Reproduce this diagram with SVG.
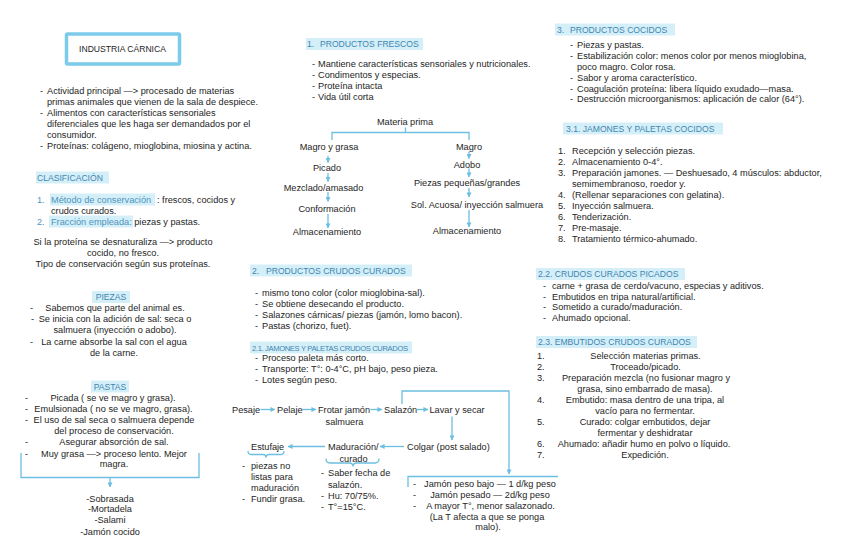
<svg xmlns="http://www.w3.org/2000/svg" width="848" height="560" viewBox="0 0 848 560">
<style>
text{font-family:"Liberation Sans","Noto Sans",Arial,sans-serif;font-size:9.2px;fill:#1e1e1e}
.m{text-anchor:middle}
.h{font-size:8.6px;fill:#3f86b0}
.b{fill:#4f93bb}
.hl{fill:#d5eff9}
.ln{fill:none;stroke:#6cbfe0;stroke-width:1.3}
.ar{fill:none;stroke:#6cbfe0;stroke-width:1.3;marker-end:url(#a)}
</style>
<defs>
<marker id="a" viewBox="0 0 6 6" refX="5.5" refY="3" markerWidth="5" markerHeight="5" markerUnits="userSpaceOnUse" orient="auto"><path d="M0,0 L6,3 L0,6 z" fill="#6cbfe0"/></marker>
</defs>
<rect width="848" height="560" fill="#fff"/>

<g id="industria">
<rect x="66.5" y="34" width="113" height="30" fill="#fff" stroke="#7ccbea" stroke-width="3.5" rx="1"/>
<text x="122.5" y="51.5" class="m" style="font-size:8.6px">INDUSTRIA CÁRNICA</text>
</g>
<g id="intro">
<text x="40" y="93.8">-</text><text x="47" y="93.8">Actividad principal —&gt; procesado de materias</text>
<text x="47" y="104.8">primas animales que vienen de la sala de despiece.</text>
<text x="40" y="115.8">-</text><text x="47" y="115.8">Alimentos con características sensoriales</text>
<text x="47" y="126.8">diferenciales que les haga ser demandados por el</text>
<text x="47" y="137.8">consumidor.</text>
<text x="40" y="148.8">-</text><text x="47" y="148.8">Proteínas: colágeno, mioglobina, miosina y actina.</text>
</g>
<g id="clasificacion">
<rect class="hl" x="36" y="171.5" width="73" height="12"/>
<text x="37" y="180.8" class="h">CLASIFICACIÓN</text>
<rect class="hl" x="50" y="193.5" width="105" height="12"/>
<text x="37" y="202.6" class="b">1.</text><text x="51" y="202.6" class="b">Método de conservación</text><text x="157" y="202.6">: frescos, cocidos y</text>
<text x="51" y="213.6">crudos curados.</text>
<rect class="hl" x="49" y="215.5" width="84" height="12"/>
<text x="37" y="224.6" class="b">2.</text><text x="51" y="224.6"><tspan class="b">Fracción empleada:</tspan> piezas y pastas.</text>
<text x="123" y="244.8" class="m">Si la proteína se desnaturaliza —&gt; producto</text>
<text x="123" y="255.8" class="m">cocido, no fresco.</text>
<text x="123" y="266.8" class="m">Tipo de conservación según sus proteínas.</text>
</g>
<g id="piezas">
<rect class="hl" x="92" y="291" width="38" height="12"/>
<text x="111" y="300.3" class="h m">PIEZAS</text>
<text x="30" y="311">-</text><text x="115" y="311" class="m">Sabemos que parte del animal es.</text>
<text x="31" y="322.3">-</text><text x="115" y="322.3" class="m">Se inicia con la adición de sal: seca o</text>
<text x="115" y="333.3" class="m">salmuera (inyección o adobo).</text>
<text x="30" y="345">-</text><text x="114" y="345" class="m">La carne absorbe la sal con el agua</text>
<text x="114" y="356" class="m">de la carne.</text>
</g>
<g id="pastas">
<rect class="hl" x="91" y="380.5" width="38" height="12"/>
<text x="110" y="389.8" class="h m">PASTAS</text>
<text x="25" y="400.6">-</text><text x="113" y="400.6" class="m">Picada ( se ve magro y grasa).</text>
<text x="25" y="412.2">-</text><text x="113.5" y="412.2" class="m">Emulsionada ( no se ve magro, grasa).</text>
<text x="25" y="423.3">-</text><text x="114" y="423.3" class="m">El uso de sal seca o salmuera depende</text>
<text x="114" y="434.3" class="m">del proceso de conservación.</text>
<text x="25" y="445">-</text><text x="114" y="445" class="m">Asegurar absorción de sal.</text>
<text x="25" y="456.6">-</text><text x="114" y="456.6" class="m">Muy grasa —&gt; proceso lento. Mejor</text>
<text x="114" y="467.3" class="m">magra.</text>
</g>
<g id="ejemplos-pastas">
<text x="110" y="501.6" class="m">-Sobrasada</text>
<text x="110" y="512.4" class="m">-Mortadela</text>
<text x="110" y="523.3" class="m">-Salami</text>
<text x="110" y="535" class="m">-Jamón cocido</text>
</g>

<g id="frescos">
<rect class="hl" x="306" y="38" width="117" height="12"/>
<text x="307" y="47.3" class="h">1.</text><text x="320" y="47.3" class="h">PRODUCTOS FRESCOS</text>
<text x="312" y="67.3">-</text><text x="318" y="67.3">Mantiene características sensoriales y nutricionales.</text>
<text x="312" y="78.3">-</text><text x="318" y="78.3">Condimentos y especias.</text>
<text x="312" y="89.3">-</text><text x="318" y="89.3">Proteína intacta</text>
<text x="312" y="100.3">-</text><text x="318" y="100.3">Vida útil corta</text>
</g>
<g id="materia-prima"><text x="405" y="124.8" class="m">Materia prima</text></g>
<g id="magro-grasa"><text x="329" y="150.2" class="m">Magro y grasa</text></g>
<g id="picado"><text x="327" y="170.6" class="m">Picado</text></g>
<g id="mezclado"><text x="323.5" y="190.6" class="m">Mezclado/amasado</text></g>
<g id="conformacion"><text x="327" y="211.6" class="m">Conformación</text></g>
<g id="almac-1"><text x="327" y="235" class="m">Almacenamiento</text></g>
<g id="magro"><text x="469" y="150.2" class="m">Magro</text></g>
<g id="adobo"><text x="467" y="167.6" class="m">Adobo</text></g>
<g id="piezas-peq"><text x="467" y="186.2" class="m">Piezas pequeñas/grandes</text></g>
<g id="sol-acuosa"><text x="477" y="207.6" class="m">Sol. Acuosa/ inyección salmuera</text></g>
<g id="almac-2"><text x="467" y="234" class="m">Almacenamiento</text></g>

<g id="crudos">
<rect class="hl" x="250" y="264.5" width="162" height="12"/>
<text x="252" y="273.6" class="h">2.</text><text x="266" y="273.6" class="h">PRODUCTOS CRUDOS CURADOS</text>
<text x="255" y="295.6">-</text><text x="262" y="295.6">mismo tono color (color mioglobina-sal).</text>
<text x="255" y="306.6">-</text><text x="262" y="306.6">Se obtiene desecando el producto.</text>
<text x="255" y="317.6">-</text><text x="262" y="317.6">Salazones cárnicas/ piezas (jamón, lomo bacon).</text>
<text x="255" y="328.6">-</text><text x="262" y="328.6">Pastas (chorizo, fuet).</text>
</g>
<g id="jamones-crudos">
<rect class="hl" x="250" y="341.5" width="162" height="12"/>
<text x="252" y="350.8" class="h" style="font-size:7.6px;letter-spacing:-0.35px">2.1. JAMONES Y PALETAS CRUDOS CURADOS</text>
<text x="255" y="361.4">-</text><text x="262" y="361.4">Proceso paleta más corto.</text>
<text x="255" y="372.4">-</text><text x="262" y="372.4">Transporte: T°: 0-4°C, pH bajo, peso pieza.</text>
<text x="255" y="383.4">-</text><text x="262" y="383.4">Lotes según peso.</text>
</g>
<g id="pesaje"><text x="232" y="413.4">Pesaje</text></g>
<g id="pelaje"><text x="277" y="413.4">Pelaje</text></g>
<g id="frotar"><text x="318" y="413.4">Frotar jamón</text><text x="344.5" y="425" class="m">salmuera</text></g>
<g id="salazon"><text x="384" y="413.4">Salazón</text></g>
<g id="lavar"><text x="429.5" y="413.4">Lavar y secar</text></g>
<g id="colgar"><text x="407" y="450">Colgar (post salado)</text></g>
<g id="maduracion">
<text x="328" y="450">Maduración/</text><text x="353.5" y="461.6" class="m">curado</text>
<path class="ln" d="M326,458.5 Q326,463 330,463 H349 Q353,463 353,466.5 Q353,463 357,463 H375 Q379,463 379,458.5"/>
<text x="321" y="476">-</text><text x="328" y="476">Saber fecha de</text>
<text x="328" y="487.6">salazón.</text>
<text x="321" y="499.3">-</text><text x="328" y="499.3">Hu: 70/75%.</text>
<text x="321" y="510">-</text><text x="328" y="510">T°=15°C.</text>
</g>
<g id="estufaje">
<text x="251" y="450">Estufaje</text>
<path class="ln" d="M248,451 Q248,454.5 251.5,454.5 H263 Q266,454.5 266,457.5 Q266,454.5 269,454.5 H280.5 Q284,454.5 284,451"/>
<text x="242" y="469">-</text><text x="251" y="469">piezas no</text>
<text x="251" y="480">listas para</text>
<text x="251" y="490.6">maduración</text>
<text x="242" y="501.6">-</text><text x="251" y="501.6">Fundir grasa.</text>
</g>
<g id="peso-jamon">
<text x="413" y="486.6">-</text><text x="490" y="486.6" class="m">Jamón peso bajo — 1 d/kg peso</text>
<text x="413" y="497.6">-</text><text x="490" y="497.6" class="m">Jamón pesado — 2d/kg peso</text>
<text x="413" y="509.3">-</text><text x="490.5" y="509.3" class="m">A mayor T°, menor salazonado.</text>
<text x="487" y="520" class="m">(La T afecta a que se ponga</text>
<text x="488" y="530.4" class="m">malo).</text>
</g>

<g id="cocidos">
<rect class="hl" x="555" y="23.5" width="120" height="12"/>
<text x="557" y="32.7" class="h">3.</text><text x="570" y="32.7" class="h">PRODUCTOS COCIDOS</text>
<text x="570" y="48.3">-</text><text x="577" y="48.3">Piezas y pastas.</text>
<text x="570" y="59.2">-</text><text x="577" y="59.2">Estabilización color: menos color por menos mioglobina,</text>
<text x="577" y="70">poco magro. Color rosa.</text>
<text x="570" y="80.8">-</text><text x="577" y="80.8">Sabor y aroma característico.</text>
<text x="570" y="91.6">-</text><text x="577" y="91.6">Coagulación proteína: libera líquido exudado—masa.</text>
<text x="570" y="102.4">-</text><text x="577" y="102.4">Destrucción microorganismos: aplicación de calor (64°).</text>
</g>
<g id="jamones-cocidos">
<rect class="hl" x="563" y="122.5" width="160" height="12"/>
<text x="566" y="131.6" class="h">3.1. JAMONES Y PALETAS COCIDOS</text>
<text x="558" y="154.3">1.</text><text x="572" y="154.3">Recepción y selección piezas.</text>
<text x="558" y="165.3">2.</text><text x="572" y="165.3">Almacenamiento 0-4°.</text>
<text x="558" y="176.3">3.</text><text x="572" y="176.3">Preparación jamones. — Deshuesado, 4 músculos: abductor,</text>
<text x="572" y="187.3">semimembranoso, roedor y.</text>
<text x="558" y="198.3">4.</text><text x="572" y="198.3">(Rellenar separaciones con gelatina).</text>
<text x="558" y="209.3">5.</text><text x="572" y="209.3">Inyección salmuera.</text>
<text x="558" y="220.3">6.</text><text x="572" y="220.3">Tenderización.</text>
<text x="558" y="231.3">7.</text><text x="572" y="231.3">Pre-masaje.</text>
<text x="558" y="242.3">8.</text><text x="572" y="242.3">Tratamiento térmico-ahumado.</text>
</g>
<g id="picados">
<rect class="hl" x="536" y="268" width="149" height="12"/>
<text x="538" y="277.2" class="h">2.2. CRUDOS CURADOS PICADOS</text>
<text x="543" y="288.8">-</text><text x="552" y="288.8">carne + grasa de cerdo/vacuno, especias y aditivos.</text>
<text x="543" y="299.6">-</text><text x="552" y="299.6">Embutidos en tripa natural/artificial.</text>
<text x="543" y="310.4">-</text><text x="552" y="310.4">Sometido a curado/maduración.</text>
<text x="543" y="321.2">-</text><text x="552" y="321.2">Ahumado opcional.</text>
</g>
<g id="embutidos">
<rect class="hl" x="536" y="336" width="161" height="12"/>
<text x="538" y="345.2" class="h">2.3. EMBUTIDOS CRUDOS CURADOS</text>
<text x="537" y="359.3">1.</text><text x="645.5" y="359.3" class="m">Selección materias primas.</text>
<text x="537" y="370.3">2.</text><text x="645.5" y="370.3" class="m">Troceado/picado.</text>
<text x="537" y="381.3">3.</text><text x="646" y="381.3" class="m">Preparación mezcla (no fusionar magro y</text>
<text x="645" y="392.3" class="m">grasa, sino embarrado de masa).</text>
<text x="537" y="403.3">4.</text><text x="645" y="403.3" class="m">Embutido: masa dentro de una tripa, al</text>
<text x="645" y="414.3" class="m">vacío para no fermentar.</text>
<text x="537" y="425.3">5.</text><text x="645" y="425.3" class="m">Curado: colgar embutidos, dejar</text>
<text x="645" y="436.3" class="m">fermentar y deshidratar</text>
<text x="537" y="447.3">6.</text><text x="644" y="447.3" class="m">Ahumado: añadir humo en polvo o líquido.</text>
<text x="537" y="458.3">7.</text><text x="645" y="458.3" class="m">Expedición.</text>
</g>

<g id="connectors">
<path class="ln" d="M21,453 V477.5 H199 V453"/>
<path class="ar" d="M110,477.5 V487"/>
<path class="ln" d="M405.5,127.5 V132.5 M332,140 V132.5 H469 V140"/>
<path class="ar" d="M328,156 V162.5"/>
<path class="ar" d="M328,173 V181.5"/>
<path class="ar" d="M328,192 V201.5"/>
<path class="ar" d="M328,214 V228"/>
<path class="ar" d="M469,151.5 V158.5"/>
<path class="ar" d="M469,168.5 V177"/>
<path class="ar" d="M469,188 V197"/>
<path class="ar" d="M469,210 V227"/>
<path class="ar" d="M260.5,409.5 H275"/>
<path class="ar" d="M302,409.5 H316"/>
<path class="ar" d="M370.5,409.5 H382"/>
<path class="ar" d="M416.5,409.5 H428"/>
<path class="ar" d="M452,416.5 V440"/>
<path class="ar" d="M404,446.5 H380"/>
<path class="ar" d="M325,446.5 H288"/>
<path class="ar" d="M402,404 V391 H509 V474"/>
<path class="ln" d="M408,487 V476.5 H558"/>
</g>
</svg>
